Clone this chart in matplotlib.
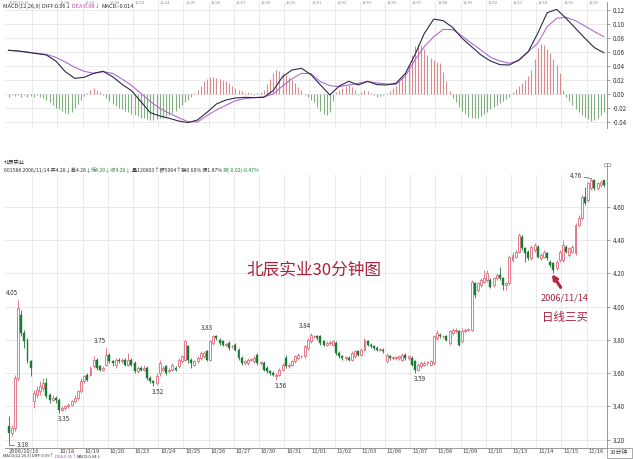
import matplotlib
matplotlib.use('Agg')
import matplotlib.pyplot as plt
import numpy as np

plt.rcParams['font.family'] = ['Noto Sans CJK SC', 'DejaVu Sans']

# one label per trading day ('' where the screen hides it)
day_labels = ['2006/10/16', '', '10/18', '10/19', '10/20', '10/23', '10/24', '10/25',
              '10/26', '10/27', '10/30', '10/31', '11/01', '11/02', '11/03', '11/06',
              '11/07', '11/08', '11/09', '11/10', '11/13', '11/14', '11/15', '11/16']

# 30 minute bars, 8 per day
opens = [3.28, 3.24, 3.27, 3.57, 3.95, 3.84, 3.80, 3.67,
         3.43, 3.47, 3.49, 3.51, 3.54, 3.47, 3.44, 3.45,
         3.44, 3.38, 3.39, 3.40, 3.41, 3.43, 3.45, 3.49,
         3.55, 3.59, 3.59, 3.64, 3.68, 3.64, 3.62, 3.65,
         3.71, 3.67, 3.65, 3.68, 3.67, 3.68, 3.65, 3.68,
         3.66, 3.61, 3.63, 3.62, 3.63, 3.57, 3.55, 3.54,
         3.60, 3.62, 3.64, 3.61, 3.62, 3.63, 3.64, 3.67,
         3.68, 3.76, 3.68, 3.65, 3.67, 3.69, 3.70, 3.73,
         3.68, 3.78, 3.82, 3.80, 3.79, 3.77, 3.78, 3.76,
         3.77, 3.74, 3.69, 3.66, 3.66, 3.68, 3.67, 3.71,
         3.66, 3.66, 3.63, 3.61, 3.60, 3.58, 3.59, 3.62,
         3.69, 3.64, 3.65, 3.67, 3.69, 3.70, 3.70, 3.75,
         3.79, 3.82, 3.82, 3.82, 3.79, 3.77, 3.78, 3.77,
         3.78, 3.72, 3.70, 3.69, 3.69, 3.68, 3.70, 3.73,
         3.71, 3.74, 3.79, 3.77, 3.76, 3.75, 3.74, 3.74,
         3.67, 3.70, 3.69, 3.69, 3.69, 3.68, 3.71, 3.69,
         3.69, 3.67, 3.62, 3.64, 3.65, 3.66, 3.65, 3.66,
         3.81, 3.83, 3.82, 3.82, 3.78, 3.84, 3.85, 3.85,
         3.79, 3.85, 3.86, 3.86, 4.14, 4.10, 4.13, 4.15,
         4.16, 4.16, 4.13, 4.17, 4.19, 4.17, 4.13, 4.14,
         4.28, 4.30, 4.33, 4.42, 4.35, 4.33, 4.29, 4.34,
         4.36, 4.29, 4.30, 4.32, 4.27, 4.26, 4.23, 4.28,
         4.28, 4.36, 4.31, 4.33, 4.32, 4.49, 4.53, 4.66,
         4.64, 4.71, 4.76, 4.71, 4.73, 4.76]
highs = [3.34, 3.29, 3.59, 4.04, 3.98, 3.86, 3.81, 3.68,
         3.50, 3.52, 3.55, 3.57, 3.57, 3.48, 3.47, 3.46,
         3.45, 3.40, 3.41, 3.42, 3.44, 3.47, 3.50, 3.57,
         3.59, 3.60, 3.64, 3.70, 3.69, 3.65, 3.64, 3.75,
         3.72, 3.68, 3.69, 3.69, 3.69, 3.69, 3.72, 3.69,
         3.67, 3.64, 3.64, 3.65, 3.64, 3.58, 3.56, 3.60,
         3.68, 3.64, 3.65, 3.63, 3.66, 3.64, 3.69, 3.71,
         3.80, 3.77, 3.69, 3.68, 3.70, 3.73, 3.73, 3.74,
         3.80, 3.83, 3.83, 3.81, 3.80, 3.78, 3.79, 3.77,
         3.78, 3.75, 3.70, 3.68, 3.69, 3.69, 3.70, 3.72,
         3.67, 3.67, 3.64, 3.62, 3.61, 3.60, 3.63, 3.66,
         3.71, 3.66, 3.68, 3.71, 3.72, 3.71, 3.77, 3.81,
         3.84, 3.83, 3.83, 3.83, 3.80, 3.79, 3.79, 3.80,
         3.79, 3.73, 3.71, 3.70, 3.70, 3.73, 3.74, 3.74,
         3.75, 3.81, 3.80, 3.78, 3.77, 3.76, 3.75, 3.75,
         3.72, 3.71, 3.70, 3.70, 3.71, 3.72, 3.72, 3.71,
         3.70, 3.68, 3.66, 3.67, 3.67, 3.67, 3.68, 3.83,
         3.86, 3.84, 3.83, 3.83, 3.86, 3.87, 3.87, 3.86,
         3.87, 3.87, 3.87, 4.16, 4.15, 4.15, 4.17, 4.22,
         4.22, 4.17, 4.18, 4.20, 4.24, 4.18, 4.15, 4.31,
         4.33, 4.34, 4.44, 4.43, 4.36, 4.34, 4.37, 4.38,
         4.37, 4.32, 4.34, 4.33, 4.28, 4.27, 4.28, 4.34,
         4.40, 4.37, 4.36, 4.37, 4.50, 4.55, 4.67, 4.72,
         4.75, 4.77, 4.76, 4.75, 4.76, 4.76]
lows = [3.19, 3.22, 3.25, 3.55, 3.82, 3.75, 3.66, 3.58,
        3.39, 3.45, 3.47, 3.49, 3.45, 3.42, 3.43, 3.42,
        3.36, 3.37, 3.38, 3.39, 3.40, 3.42, 3.44, 3.48,
        3.54, 3.55, 3.58, 3.63, 3.62, 3.61, 3.61, 3.64,
        3.66, 3.64, 3.63, 3.66, 3.66, 3.64, 3.64, 3.64,
        3.60, 3.60, 3.61, 3.61, 3.56, 3.54, 3.52, 3.53,
        3.58, 3.61, 3.59, 3.60, 3.61, 3.61, 3.63, 3.66,
        3.67, 3.66, 3.63, 3.64, 3.66, 3.68, 3.69, 3.67,
        3.67, 3.77, 3.80, 3.77, 3.76, 3.76, 3.74, 3.75,
        3.73, 3.68, 3.65, 3.65, 3.65, 3.67, 3.66, 3.65,
        3.65, 3.61, 3.60, 3.59, 3.58, 3.56, 3.58, 3.61,
        3.63, 3.63, 3.64, 3.66, 3.68, 3.69, 3.69, 3.74,
        3.78, 3.81, 3.80, 3.77, 3.76, 3.76, 3.77, 3.76,
        3.71, 3.69, 3.68, 3.68, 3.67, 3.67, 3.69, 3.70,
        3.70, 3.73, 3.76, 3.75, 3.74, 3.73, 3.73, 3.72,
        3.66, 3.68, 3.68, 3.68, 3.68, 3.67, 3.68, 3.68,
        3.64, 3.60, 3.61, 3.63, 3.64, 3.65, 3.64, 3.65,
        3.80, 3.81, 3.81, 3.79, 3.77, 3.83, 3.84, 3.76,
        3.78, 3.84, 3.85, 3.85, 4.05, 4.09, 4.12, 4.14,
        4.15, 4.11, 4.12, 4.16, 4.16, 4.10, 4.10, 4.13,
        4.27, 4.29, 4.32, 4.34, 4.27, 4.28, 4.28, 4.33,
        4.29, 4.28, 4.29, 4.28, 4.24, 4.20, 4.22, 4.27,
        4.27, 4.32, 4.30, 4.32, 4.31, 4.48, 4.52, 4.61,
        4.63, 4.70, 4.70, 4.70, 4.72, 4.72]
closes = [3.24, 3.27, 3.57, 3.99, 3.84, 3.79, 3.67, 3.63,
          3.48, 3.50, 3.52, 3.54, 3.46, 3.44, 3.45, 3.44,
          3.38, 3.39, 3.40, 3.41, 3.43, 3.45, 3.49, 3.55,
          3.58, 3.56, 3.63, 3.68, 3.63, 3.62, 3.63, 3.71,
          3.67, 3.66, 3.68, 3.67, 3.68, 3.65, 3.68, 3.65,
          3.61, 3.63, 3.62, 3.63, 3.57, 3.55, 3.54, 3.58,
          3.66, 3.63, 3.60, 3.62, 3.65, 3.62, 3.68, 3.70,
          3.79, 3.68, 3.66, 3.67, 3.69, 3.72, 3.72, 3.68,
          3.79, 3.82, 3.81, 3.78, 3.77, 3.77, 3.75, 3.76,
          3.74, 3.69, 3.66, 3.67, 3.68, 3.68, 3.69, 3.66,
          3.66, 3.62, 3.61, 3.60, 3.59, 3.59, 3.62, 3.65,
          3.64, 3.65, 3.67, 3.70, 3.71, 3.70, 3.76, 3.80,
          3.83, 3.82, 3.81, 3.78, 3.77, 3.78, 3.78, 3.79,
          3.72, 3.70, 3.69, 3.69, 3.68, 3.72, 3.73, 3.71,
          3.74, 3.80, 3.77, 3.76, 3.75, 3.74, 3.74, 3.73,
          3.71, 3.69, 3.69, 3.69, 3.70, 3.71, 3.69, 3.70,
          3.65, 3.62, 3.65, 3.66, 3.66, 3.66, 3.67, 3.82,
          3.84, 3.82, 3.82, 3.80, 3.85, 3.86, 3.86, 3.77,
          3.85, 3.86, 3.86, 4.15, 4.07, 4.14, 4.16, 4.17,
          4.20, 4.12, 4.17, 4.19, 4.17, 4.13, 4.14, 4.30,
          4.31, 4.33, 4.43, 4.35, 4.32, 4.29, 4.36, 4.37,
          4.30, 4.31, 4.33, 4.29, 4.25, 4.22, 4.27, 4.33,
          4.37, 4.33, 4.35, 4.36, 4.49, 4.53, 4.66, 4.62,
          4.74, 4.76, 4.71, 4.74, 4.75, 4.73]

# MACD histogram, one value per bar
macd_hist = [-0.004, -0.002, -0.003, -0.001, -0.004, -0.002, -0.005, -0.003, -0.004, -0.002, -0.005, -0.006,
             -0.008, -0.012, -0.016, -0.020, -0.022, -0.025, -0.027, -0.028, -0.026, -0.020, -0.014, -0.008,
             -0.003, 0.002, 0.005, 0.008, 0.006, 0.003,
             -0.002, -0.006, -0.010, -0.014, -0.017, -0.020, -0.022, -0.024, -0.026, -0.028, -0.030, -0.032,
             -0.034, -0.035, -0.036, -0.037, -0.037, -0.036, -0.035, -0.034, -0.032, -0.030, -0.027, -0.024,
             -0.020, -0.016, -0.012, -0.008, -0.004,
             0.002, 0.006, 0.012, 0.018, 0.022, 0.024, 0.024, 0.023, 0.022, 0.020, 0.018, 0.015, 0.012, 0.008, 0.005,
             0.004, 0.002, 0.003, 0.001, -0.001, 0.001, 0.003,
             0.006, 0.014, 0.022, 0.030, 0.034, 0.033, 0.030, 0.027, 0.024, 0.020, 0.015, 0.010, 0.005,
             -0.002, -0.004, -0.008,
             -0.012, -0.018, -0.024, -0.028, -0.030, -0.026, -0.010,
             0.003, 0.006, 0.009, 0.011, 0.013, 0.010, 0.006,
             -0.002, 0.003, 0.006, 0.004, 0.002, -0.002, -0.004, -0.003, -0.001, 0.001,
             0.004, 0.008, 0.012, 0.018, 0.024, 0.032, 0.042, 0.055, 0.068, 0.071,
             0.070, 0.064, 0.056, 0.052, 0.048, 0.046, 0.044, 0.032, 0.018, 0.004,
             -0.006, -0.012, -0.018, -0.024, -0.029, -0.033, -0.035, -0.035, -0.034, -0.032,
             -0.029, -0.026, -0.022, -0.019, -0.016, -0.013, -0.010, -0.007, -0.004,
             0.003, 0.007, 0.011, 0.015, 0.020, 0.026, 0.034, 0.050, 0.066, 0.072,
             0.070, 0.064, 0.058, 0.050, 0.042, 0.030, 0.006,
             -0.004, -0.010, -0.016, -0.022, -0.026, -0.030, -0.033, -0.036, -0.038, -0.037,
             -0.035, -0.030, -0.026]

# DIF / DEA read every third bar
line_step = 3
dif = [0.0624, 0.0614, 0.0595, 0.0576, 0.0557, 0.0471, 0.0319, 0.0224, 0.0238, 0.0295, 0.0324,
       0.0248, 0.0138, 0.0048, -0.0109, -0.0267, -0.0314, -0.0347, -0.0386, -0.0409, -0.0371,
       -0.0262, -0.0143, -0.0086, -0.0057, -0.0048, -0.0052, -0.0048, 0.0048, 0.0248, 0.0343,
       0.0367, 0.0276, 0.0129, -0.0014, 0.0114, 0.0181, 0.0129, 0.0181, 0.0133, 0.0129, 0.0152,
       0.0295, 0.0557, 0.0866, 0.1070, 0.1047, 0.0950, 0.0795, 0.0676, 0.0557, 0.0471, 0.0419,
       0.0414, 0.0486, 0.0605, 0.0866, 0.1161, 0.1209, 0.1081, 0.0938, 0.0795, 0.0662, 0.0590]
dea = [0.0624, 0.0614, 0.0600, 0.0581, 0.0566, 0.0524, 0.0457, 0.0381, 0.0324, 0.0295, 0.0319,
       0.0295, 0.0214, 0.0124, 0.0010, -0.0109, -0.0205, -0.0276, -0.0338, -0.0395, -0.0400,
       -0.0309, -0.0228, -0.0162, -0.0095, -0.0067, -0.0052, -0.0043, 0.0000, 0.0114, 0.0219,
       0.0295, 0.0290, 0.0176, 0.0119, 0.0105, 0.0129, 0.0152, 0.0176, 0.0157, 0.0143, 0.0138,
       0.0257, 0.0486, 0.0676, 0.0819, 0.0923, 0.0919, 0.0828, 0.0724, 0.0628, 0.0524, 0.0471,
       0.0438, 0.0476, 0.0605, 0.0724, 0.0962, 0.1081, 0.1095, 0.1047, 0.0971, 0.0890, 0.0819]

price_ticks = [3.20, 3.40, 3.60, 3.80, 4.00, 4.20, 4.40, 4.60]
macd_ticks = [-0.04, -0.02, 0.00, 0.02, 0.04, 0.06, 0.08, 0.10, 0.12]

# marked highs / lows shown on the chart
note_bars = [3, 0, 16, 31, 46, 65, 85, 96, 129, 185]
note_text = ['4.05', '3.18', '3.35', '3.75', '3.52', '3.83', '3.56', '3.84', '3.59', '4.76']
note_side = ['hi', 'lo', 'lo', 'hi', 'lo', 'hi', 'lo', 'hi', 'lo', 'hi']

buy_bar = 173

up_col = '#e0687a'
dn_col = '#1d7a34'
grid_col = '#e6e6e6'
txt_col = '#333333'
red_txt = '#a8203a'

W, H = 634, 459
fig = plt.figure(figsize=(W / 100, H / 100), dpi=100)


def fx(px):
    return px / W


def fy(py):
    return 1 - py / H


n = len(closes)
x = np.arange(n)
o, h, l, c = (np.array(a) for a in (opens, highs, lows, closes))
xlim = (-1.14, 190.0)
day_pos = np.arange(len(day_labels)) * 8 - 0.5

# ---------------- MACD panel ----------------
ax_m = fig.add_axes([fx(5), fy(128), fx(607) - fx(5), fy(2) - fy(128)])
ax_m.set_xlim(*xlim)
ax_m.set_ylim(-0.0486, 0.1314)
for d in day_pos[1:]:
    ax_m.axvline(d, color=grid_col, lw=0.6, zorder=0)
for t in macd_ticks:
    ax_m.axhline(t, color=grid_col, lw=0.6, zorder=0)
hist = np.array(macd_hist)
ax_m.vlines(x, 0, hist, colors=np.where(hist > 0, '#d88a8f', '#7fae7f'), lw=0.8, zorder=2)
xl = np.arange(0, n, line_step)
ax_m.plot(xl, dea, color='#b36ad0', lw=0.8, zorder=3)
ax_m.plot(xl, dif, color='#2a2a48', lw=0.8, zorder=4)
ax_m.yaxis.tick_right()
ax_m.set_yticks(macd_ticks)
ax_m.set_yticklabels(['%.2f' % t for t in macd_ticks])
ax_m.set_xticks([])
ax_m.tick_params(axis='y', labelsize=4.5, length=2, width=0.5, color='#777777',
                 labelcolor=txt_col, pad=2)
for s in ['top', 'left', 'bottom']:
    ax_m.spines[s].set_visible(False)
ax_m.spines['right'].set_color('#888888')
ax_m.spines['right'].set_linewidth(0.6)

# ---------------- price panel ----------------
ax_p = fig.add_axes([fx(5), fy(448), fx(607) - fx(5), fy(175) - fy(448)])
ax_p.set_xlim(*xlim)
ax_p.set_ylim(3.149, 4.791)
for d in day_pos[1:]:
    ax_p.axvline(d, color=grid_col, lw=0.6, zorder=0)
for t in price_ticks:
    ax_p.axhline(t, color=grid_col, lw=0.6, zorder=0)

up = c >= o
bottom = np.minimum(o, c)
body = np.maximum(np.abs(c - o), 0.004)
ax_p.vlines(x[up], l[up], h[up], color=up_col, lw=0.6, zorder=2)
ax_p.vlines(x[~up], l[~up], h[~up], color=dn_col, lw=0.6, zorder=2)
ax_p.bar(x[up], body[up], bottom=bottom[up], width=0.62, facecolor='white',
         edgecolor=up_col, linewidth=0.6, zorder=3)
ax_p.bar(x[~up], body[~up], bottom=bottom[~up], width=0.62, color=dn_col,
         edgecolor=dn_col, linewidth=0.3, zorder=3)

ax_p.yaxis.tick_right()
ax_p.set_yticks(price_ticks)
ax_p.set_yticklabels(['%.2f' % t for t in price_ticks])
ax_p.set_xticks([])
ax_p.tick_params(axis='y', labelsize=4.5, length=2, width=0.5, color='#777777',
                 labelcolor=txt_col, pad=2)
for s in ['top', 'left']:
    ax_p.spines[s].set_visible(False)
for s in ['right', 'bottom']:
    ax_p.spines[s].set_color('#888888')
    ax_p.spines[s].set_linewidth(0.6)
# right edge continues above the grid, with the small box icon
fig.add_artist(plt.Line2D([fx(607), fx(607)], [fy(175), fy(163)], color='#888888', lw=0.6))
fig.add_artist(plt.Rectangle((fx(604), fy(166)), fx(6), 3 / H, fill=False, ec='#999999', lw=0.5))

# date labels under the price panel
for d, lab in zip(day_pos, day_labels):
    if lab:
        ax_p.text(d + 0.6, -0.011, lab, transform=ax_p.get_xaxis_transform(),
                  fontsize=4.2, color='#444444', ha='left', va='center', clip_on=False)
# same labels along the top edge of the picture
for d, lab in zip(day_pos, day_labels):
    if lab:
        px = 5 + (d + 0.6 - xlim[0]) / (xlim[1] - xlim[0]) * 602
        fig.text(fx(px), fy(0.3), lab, fontsize=2.8, color='#888888', ha='left', va='top')
fig.add_artist(plt.Rectangle((fx(607), fy(458)), fx(25), 10 / H, fill=False, ec='#888888', lw=0.5))
fig.text(fx(610), fy(452.5), '30分钟', fontsize=4.2, color='#444444', ha='left', va='center')

# high / low marks
for i, txt, side in zip(note_bars, note_text, note_side):
    if txt == '3.18':
        ax_p.annotate(txt, xy=(i, l[i]), xytext=(6, -3), textcoords='offset points',
                      fontsize=4.5, color=txt_col, ha='left', va='center',
                      arrowprops=dict(arrowstyle='-', color='#555555', lw=0.5,
                                      connectionstyle='angle,angleA=0,angleB=90', shrinkA=0, shrinkB=0))
    elif txt == '4.76':
        ax_p.annotate(txt, xy=(i, h[i]), xytext=(-7, 2), textcoords='offset points',
                      fontsize=4.5, color=txt_col, ha='right', va='center',
                      arrowprops=dict(arrowstyle='-', color='#555555', lw=0.5, shrinkA=0, shrinkB=0))
    elif side == 'hi':
        ax_p.annotate(txt, xy=(i, h[i]), xytext=(0, 2), textcoords='offset points',
                      fontsize=4.5, color=txt_col, ha='right', va='bottom')
    else:
        ax_p.annotate(txt, xy=(i, l[i]), xytext=(-1, -1.5), textcoords='offset points',
                      fontsize=4.5, color=txt_col, ha='left', va='top')

# buy-point arrow and notes
ax_p.annotate('', xy=(buy_bar - 0.5, l[buy_bar] - 0.005), xytext=(buy_bar + 2.3, l[buy_bar] - 0.085),
              arrowprops=dict(arrowstyle='-|>', color='#b3263c', lw=2.2, mutation_scale=7,
                              shrinkA=0, shrinkB=0))
ax_p.annotate('2006/11/14', xy=(buy_bar, l[buy_bar]), xytext=(8.2, -18), textcoords='offset points',
              fontsize=6.6, color=red_txt, ha='center', va='center')
ax_p.annotate('日线三买', xy=(buy_bar, l[buy_bar]), xytext=(8.2, -32), textcoords='offset points',
              fontsize=8.3, color=red_txt, ha='center', va='center')

fig.text(fx(314), fy(270), '北辰实业30分钟图', fontsize=12, color=red_txt, ha='center', va='center')

# header lines written segment by segment (different colours)
renderer = fig.canvas.get_renderer()


def seg_text(x_px, y_px, segments, size, va='center'):
    cur = x_px
    for s, col in segments:
        t = fig.text(fx(cur), fy(y_px), s, color=col, fontsize=size, ha='left', va=va)
        cur += t.get_window_extent(renderer).width


seg_text(3, 6, [('MACD(12,26,9) ', txt_col), ('DIFF:0.06↓ ', txt_col),
                ('DEA:0.08↓ ', '#c040c0'), ('MACD:-0.014', txt_col)], 4.0)
fig.text(fx(4), fy(163), '北辰实业', fontsize=3.8, color=txt_col, ha='left', va='center')
seg_text(4, 170.5, [('601588 2006/11/14 开4.28↓高4.28↓', txt_col), ('低4.20↓收4.26↓', '#1d8a34'),
                    ('量120803↑额5064↑换0.60% 振1.87% ', txt_col), ('涨(-0.02)-0.47%', '#1d8a34')], 3.7)
seg_text(3, 458.6, [('MACD(12,26,9) DIFF:0.09↑ ', txt_col), ('DEA:0.05↑ ', '#c040c0'),
                    ('MACD:0.04↓', txt_col)], 3.0, va='bottom')

fig.savefig('out.png', dpi=100)
